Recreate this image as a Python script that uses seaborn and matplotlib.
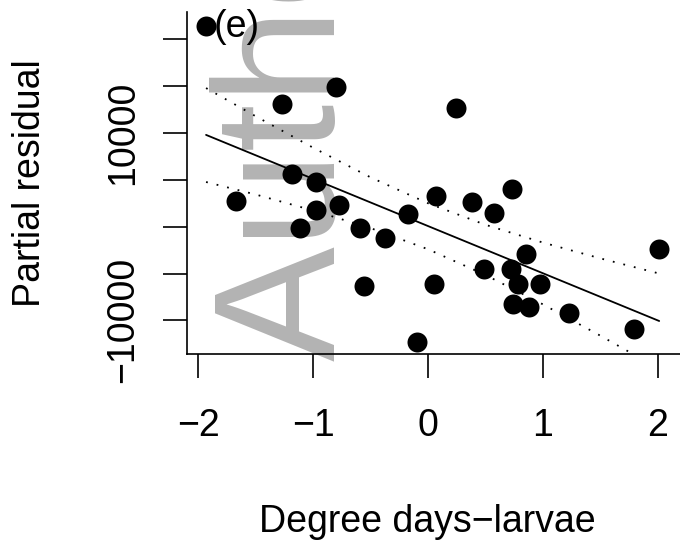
"""
Partial residual plot against degree days for larvae, panel (e).
"""

import matplotlib

matplotlib.use("Agg")

import matplotlib.pyplot as plt
import seaborn as sns

# points
DEGREE_DAYS = [
    -1.93, -1.27, -0.80, 0.24, -1.18, -0.97, -1.67, -0.97, -0.77, -1.11,
    -0.59, -0.37, -0.17, 0.07, 0.38, 0.57, 0.73, 0.85, 0.49, 0.72,
    0.78, 0.97, 0.74, 0.88, 1.23, 1.79, 2.01, -0.56, 0.05, -0.10,
]
PARTIAL_RESIDUAL = [
    21430, 13100, 14920, 12670, 5630, 4770, 2740, 1780, 2320, -140,
    -140, -1210, 1360, 3280, 2640, 1460, 4030, -2920, -4520, -4520,
    -6120, -6120, -8250, -8570, -9210, -10920, -2380, -6330, -6120, -12310,
]

# fitted line and its confidence band
FIT_X = [-1.93, 2.01]
FIT_Y = [9800, -10070]
BAND_X = [-1.93, -1.5, -1.0, -0.5, 0.0, 0.5, 1.0, 1.5, 2.0]
BAND_UPPER = [14800, 11800, 8440, 5270, 2500, 200, -1700, -3390, -4970]
BAND_LOWER = [4770, 3440, 1730, -150, -2410, -5160, -8300, -11650, -15110]

X_TICKS = [-2, -1, 0, 1, 2]
X_TICK_LABELS = ["−2", "−1", "0", "1", "2"]
Y_TICKS = [-10000, -5000, 0, 5000, 10000, 15000, 20000]
Y_TICK_LABELS = ["−10000", "", "", "", "10000", "", ""]

FONT_SIZE = 27


def create_partial_residual_plot() -> None:
    sns.set_style("white")
    plt.rcParams["font.family"] = ["Liberation Sans", "DejaVu Sans"]
    plt.rcParams["text.color"] = "black"
    plt.rcParams["axes.labelcolor"] = "black"
    plt.rcParams["xtick.color"] = "black"
    plt.rcParams["ytick.color"] = "black"

    fig = plt.figure(figsize=(6.8, 5.42), dpi=100)
    ax = fig.add_axes([0.275, 0.3469, 0.725, 0.631])
    ax.patch.set_alpha(0)

    # gray watermark behind the plot
    fig.text(
        335 / 680, 1 - 361 / 542, "Author",
        rotation=90, rotation_mode="anchor", ha="left", va="baseline",
        fontsize=124, color="#b3b3b3", zorder=-1,
    )

    sns.scatterplot(
        x=DEGREE_DAYS, y=PARTIAL_RESIDUAL, s=207, color="black",
        linewidth=0, ax=ax, zorder=3,
    )
    sns.lineplot(x=FIT_X, y=FIT_Y, color="black", linewidth=1.3, ax=ax)
    for band in (BAND_UPPER, BAND_LOWER):
        sns.lineplot(
            x=BAND_X, y=band, color="black", linewidth=1.3,
            linestyle=(0, (1, 5)), ax=ax,
        )

    ax.set_xlim(-2.0957, 2.191)
    ax.set_ylim(-13592, 22924)

    ax.set_xticks(X_TICKS)
    ax.set_xticklabels(X_TICK_LABELS, fontsize=FONT_SIZE)
    ax.set_yticks(Y_TICKS)
    ax.set_yticklabels(Y_TICK_LABELS, fontsize=FONT_SIZE, rotation=90, va="center")
    ax.tick_params(axis="x", length=17, width=1.2, pad=22, color="black",
                   labelcolor="black", direction="out", bottom=True)
    ax.tick_params(axis="y", length=17, width=1.2, pad=16, color="black",
                   labelcolor="black", direction="out", left=True)

    for side in ("top", "right"):
        ax.spines[side].set_visible(False)
    for side in ("left", "bottom"):
        ax.spines[side].set_color("black")
        ax.spines[side].set_linewidth(1.2)

    ax.set_xlabel("Degree days−larvae", fontsize=FONT_SIZE, color="black")
    ax.set_ylabel("Partial residual", fontsize=FONT_SIZE, color="black")
    ax.xaxis.set_label_coords(0.488, -0.44)
    ax.yaxis.set_label_coords(-0.282, 0.5)

    ax.text(0.055, 0.956, "(e)", transform=ax.transAxes, fontsize=FONT_SIZE,
            ha="left", va="center", color="black")

    fig.savefig("out.png", dpi=100)


if __name__ == "__main__":
    create_partial_residual_plot()
